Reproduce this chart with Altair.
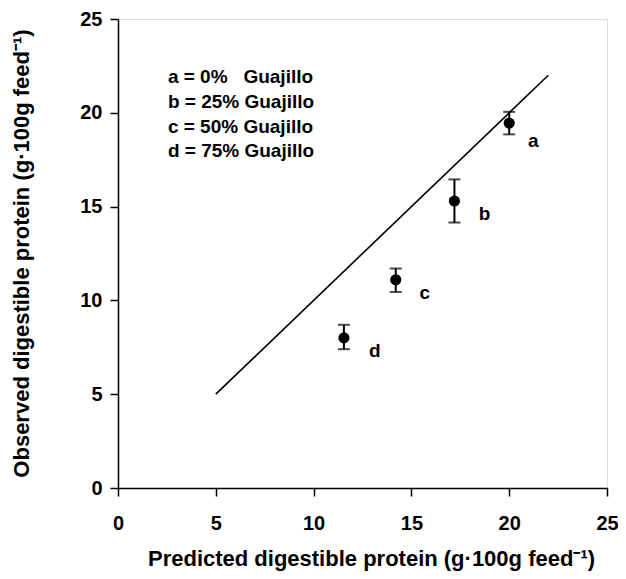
import altair as alt
import pandas as pd

# Data
labels = ["a", "b", "c", "d"]
predicted = [20.0, 17.2, 14.2, 11.55]
observed = [19.45, 15.3, 11.1, 8.0]
err_high = [20.05, 16.45, 11.7, 8.7]
err_low = [18.85, 14.15, 10.45, 7.4]

line_x = [5, 22]
line_y = [5, 22]

legend_lines = [
    "a = 0%\u00a0\u00a0\u00a0Guajillo",
    "b = 25% Guajillo",
    "c = 50% Guajillo",
    "d = 75% Guajillo",
]
legend_x = [2.55, 2.55, 2.55, 2.55]
legend_y = [21.9, 20.6, 19.25, 17.95]

label_dx = [24, 30, 29, 31]
label_dy = [18, 13, 13, 13]

FONT = "Liberation Sans"

pts = pd.DataFrame({
    "label": labels, "pred": predicted, "obs": observed,
    "hi": err_high, "lo": err_low,
})
line_df = pd.DataFrame({"x": line_x, "y": line_y})
leg_df = pd.DataFrame({"text": legend_lines, "x": legend_x, "y": legend_y})

xscale = alt.Scale(domain=[0, 25], nice=False, zero=False)
yscale = alt.Scale(domain=[0, 25], nice=False, zero=False)

xaxis = alt.Axis(
    values=[0, 5, 10, 15, 20, 25], grid=False, tickSize=8, tickWidth=1.5,
    tickColor="black", domainColor="black", domainWidth=1.5,
    labelFont=FONT, labelFontSize=20, labelFontWeight="bold", labelColor="black",
    labelBaseline="middle", labelPadding=27, labelFlush=False,
    title="Predicted digestible protein (g\u00b7100g feed\u207b\u00b9)",
    titleFont=FONT, titleFontSize=22, titleFontWeight="bold", titleColor="black",
    titleX=253, titleY=70, titleBaseline="middle", titleAnchor="middle",
)
yaxis = alt.Axis(
    values=[0, 5, 10, 15, 20, 25], grid=False, tickSize=8, tickWidth=1.5,
    tickColor="black", domainColor="black", domainWidth=1.5,
    labelFont=FONT, labelFontSize=20, labelFontWeight="bold", labelColor="black",
    labelPadding=8, labelFlush=False,
    title="Observed digestible protein (g\u00b7100g feed\u207b\u00b9)",
    titleFont=FONT, titleFontSize=22, titleFontWeight="bold", titleColor="black",
    titleX=-97, titleY=234, titleBaseline="middle", titleAngle=270,
    titleAlign="center",
)

diag = alt.Chart(line_df).mark_line(color="black", strokeWidth=1.6).encode(
    x=alt.X("x:Q", scale=xscale, axis=xaxis),
    y=alt.Y("y:Q", scale=yscale, axis=yaxis),
)

bars = alt.Chart(pts).mark_rule(color="black", strokeWidth=2).encode(
    x="pred:Q", y="lo:Q", y2="hi:Q",
)
cap_hi = alt.Chart(pts).mark_tick(
    orient="horizontal", color="black", size=12, thickness=2
).encode(x="pred:Q", y="hi:Q")
cap_lo = alt.Chart(pts).mark_tick(
    orient="horizontal", color="black", size=12, thickness=2
).encode(x="pred:Q", y="lo:Q")

dots = alt.Chart(pts).mark_point(
    filled=True, color="black", size=125, opacity=1, shape="circle"
).encode(x="pred:Q", y="obs:Q")

letter_charts = []
for i, lab in enumerate(labels):
    letter_charts.append(
        alt.Chart(pts[pts["label"] == lab]).mark_text(
            font=FONT, fontSize=19, fontWeight="bold", color="black",
            dx=label_dx[i], dy=label_dy[i], align="center", baseline="middle",
        ).encode(x="pred:Q", y="obs:Q", text="label:N")
    )

legend = alt.Chart(leg_df).mark_text(
    font=FONT, fontSize=19, fontWeight="bold", color="black",
    align="left", baseline="middle",
).encode(x="x:Q", y="y:Q", text="text:N")

chart = alt.layer(diag, bars, cap_hi, cap_lo, dots, *letter_charts, legend).properties(
    width=489, height=469,
    autosize=alt.AutoSizeParams(type="none"),
    padding={"left": 110, "top": 11, "right": 11, "bottom": 83},
).configure_view(
    stroke="black", strokeWidth=1.5
).configure(background="white")

chart.save("out.html", embed_options={"renderer": "svg", "actions": False})
